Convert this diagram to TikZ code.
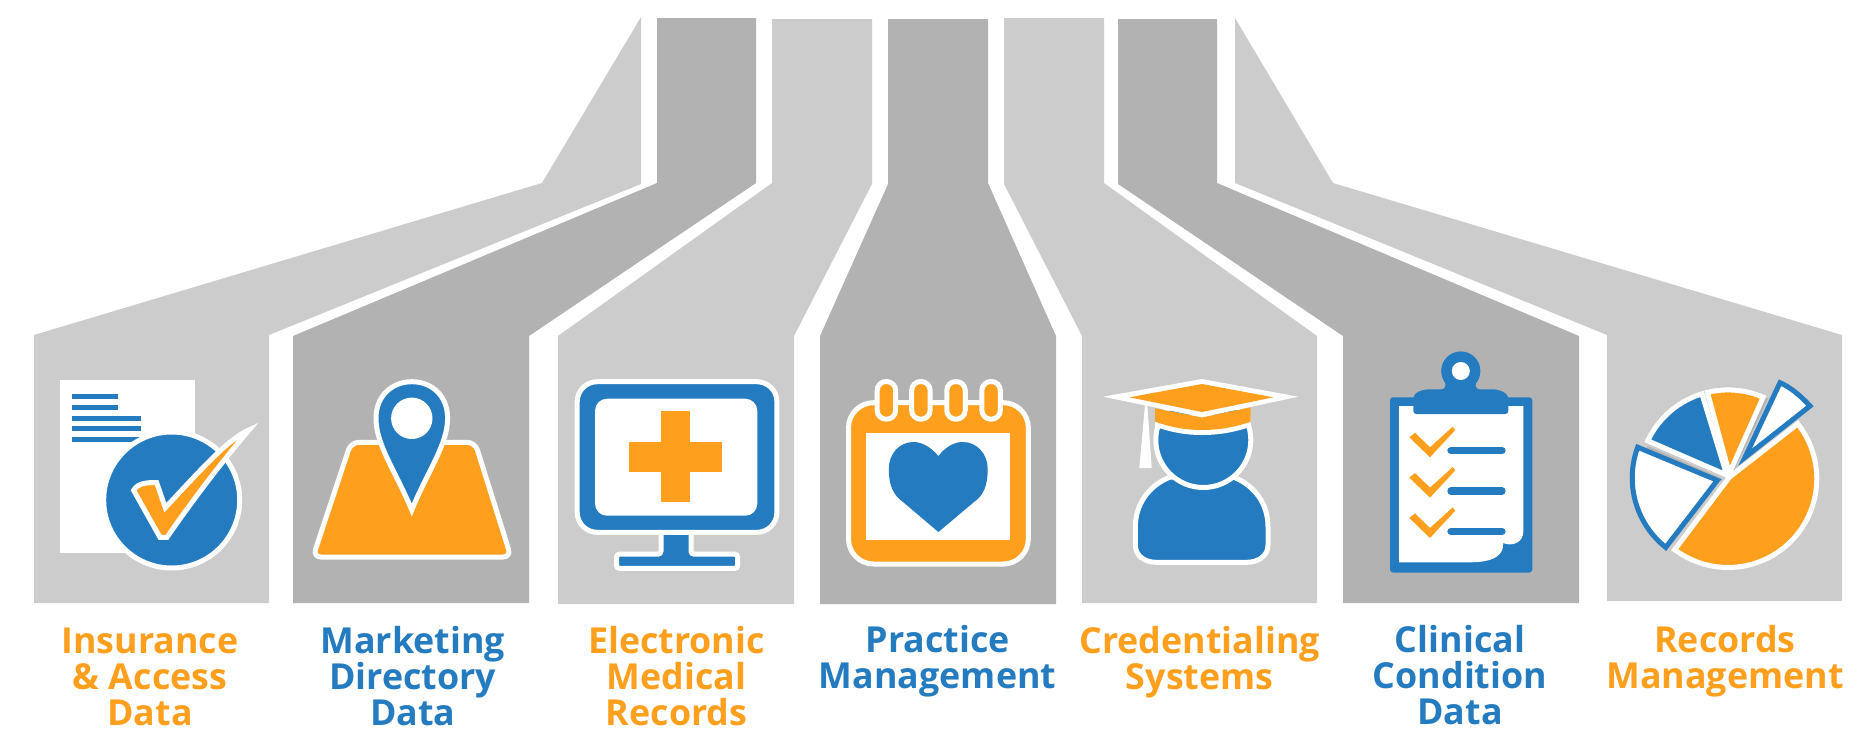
\documentclass[tikz,border=0pt]{standalone}
\usepackage{fontspec}
\setmainfont{Open Sans}
\definecolor{bandlight}{HTML}{CCCCCC}
\definecolor{banddark}{HTML}{B2B2B2}
\definecolor{brandblue}{HTML}{247BC0}
\definecolor{brandorange}{HTML}{FF9F1E}
\definecolor{pieshade}{HTML}{B4B4B4}
\tikzset{
  lightband/.style={fill=bandlight},
  darkband/.style={fill=banddark},
  bluepart/.style={fill=brandblue, draw=white, line width=5pt},
  orangepart/.style={fill=brandorange, draw=white, line width=5pt},
  outlinepart/.style={fill=white, draw=brandblue, line width=5pt},
  labeltext/.style={font=\fontsize{35.8}{36}\selectfont\bfseries, align=center, anchor=base, inner sep=0pt},
  labelorange/.style={labeltext, text=brandorange},
  labelblue/.style={labeltext, text=brandblue},
}
\begin{document}
\begin{tikzpicture}[x=1pt, y=-1pt]
  \useasboundingbox (0,0) rectangle (1875,753);

  \fill[lightband] (34,603) -- (34,335) -- (542,183) -- (641,17) -- (641,184) -- (269,335) -- (269,603) -- cycle;
  \fill[darkband] (293,603) -- (293,336) -- (657,183) -- (657,18) -- (756,18) -- (756,183) -- (529,336) -- (529,603) -- cycle;
  \fill[lightband] (558,604) -- (558,336) -- (772,183) -- (772,19) -- (872,19) -- (872,184) -- (794,336) -- (794,604) -- cycle;
  \fill[darkband] (820,604) -- (820,336) -- (888,184) -- (888,19) -- (988,19) -- (988,183) -- (1056,336) -- (1056,604) -- cycle;
  \fill[lightband] (1082,603) -- (1082,336) -- (1004,184) -- (1004,18) -- (1104,18) -- (1104,183) -- (1317,336) -- (1317,603) -- cycle;
  \fill[darkband] (1343,603) -- (1343,336) -- (1118,184) -- (1118,19) -- (1217,19) -- (1217,183) -- (1579,336) -- (1579,603) -- cycle;
  \fill[lightband] (1607,601) -- (1607,335) -- (1235,183) -- (1235,18) -- (1333,183) -- (1842,335) -- (1842,601) -- cycle;

  \fill[white] (60,380) rectangle (194.6,553);
  \foreach \y/\xend in {396/118,407/118,418/141,428/141,439/141}
    \fill[brandblue] (72.3,\y-2.5) rectangle (\xend,\y+2.5);
  \draw[bluepart] (171.7,500) circle (68pt);
  \draw[orangepart] (133.6,490.3) .. controls (137.7,483.3) and (146.3,482.3) .. (156.7,482.7)
    -- (165.3,507.7) .. controls (206.6,463.3) and (230,438) .. (249,430)
    .. controls (238,443) and (206.6,480) .. (167,537.3) -- (160,537.3) -- cycle;

  \draw[orangepart, rounded corners=8pt] (351,442.3) -- (475,442.3) -- (511,557) -- (313,557) -- cycle;
  \draw[bluepart] (411.8,510) .. controls (395,470) and (376,445) .. (376,418)
    .. controls (376,396) and (392,381.7) .. (411.8,381.7)
    .. controls (432,381.7) and (447.6,396) .. (447.6,418)
    .. controls (447.6,445) and (428,470) .. cycle;
  \fill[white] (411.8,418.3) circle (20.7pt);

  \draw[bluepart, rounded corners=3pt] (661,530) -- (661,554.2) -- (616.5,554.2) -- (616.5,568.4) -- (737.7,568.4) -- (737.7,554.2) -- (691,554.2) -- (691,530);
  \draw[bluepart, rounded corners=20pt] (577.2,381.7) rectangle (776.9,532.3);
  \fill[white, rounded corners=12pt] (595,398.7) rectangle (757.3,515.7);
  \fill[brandorange] (660.9,410.7) rectangle (690.1,502.3);
  \fill[brandorange] (629.2,442.3) rectangle (721.5,471.7);

  \draw[orangepart, rounded corners=25pt] (848.5,402.7) rectangle (1028.3,564);
  \fill[white] (866.4,433) rectangle (1010.4,540.3);
  \foreach \x in {886.4,920.9,956,991.1}
    \draw[orangepart, rounded corners=9pt] (\x-9.25,381.5) rectangle (\x+9.25,419.2);
  \fill[brandblue] (938.4,456) .. controls (929,445) and (920,442) .. (913.6,442)
    .. controls (899,442) and (888.8,454) .. (888.8,469)
    .. controls (888.8,485) and (893,495) .. (903,502) -- (938.4,532) -- (974,502)
    .. controls (984,495) and (987.7,485) .. (987.7,469)
    .. controls (987.7,454) and (977,442) .. (962.9,442)
    .. controls (956,442) and (947,445) .. cycle;

  \fill[white] (1145,405) -- (1147.3,405) -- (1151.7,468) -- (1139.3,468) -- cycle;
  \draw[bluepart] (1170,477) .. controls (1148,486) and (1135.3,505) .. (1135.3,527)
    -- (1135.3,545) .. controls (1135.3,556) and (1145,562.3) .. (1156,562.3)
    -- (1247,562.3) .. controls (1258,562.3) and (1268,556) .. (1268,545)
    -- (1268,527) .. controls (1268,505) and (1256,486) .. (1233.3,477) -- cycle;
  \draw[bluepart] (1203.3,440) circle (47.5pt);
  \fill[white] (1155,415) -- (1250.7,415) -- (1250.7,426.7) .. controls (1235,432) and (1220,435) .. (1202,435)
    .. controls (1185,435) and (1170,432) .. (1155,426.7) -- cycle;
  \fill[brandorange] (1155,408.3) -- (1202,417.3) -- (1250.7,407.3) -- (1250.7,421.7)
    .. controls (1235,427) and (1220,430) .. (1202,430) .. controls (1185,430) and (1170,427) .. (1155,421.7) -- cycle;
  \fill[white] (1103.3,396.7) -- (1202,379) -- (1298.3,396.7) -- (1202,417.3) -- cycle;
  \fill[brandorange] (1129.3,397.3) -- (1202,384) -- (1273.3,397.3) -- (1202,412) -- cycle;

  \fill[brandblue, rounded corners=3pt] (1390,397.3) rectangle (1532.3,572.5);
  \fill[white] (1399,406) -- (1523.3,406) -- (1523.3,532) .. controls (1523,542) and (1513,547) .. (1503,543)
    .. controls (1504,553) and (1497,562.3) .. (1470,562.3) -- (1399,562.3) -- cycle;
  \fill[brandblue, rounded corners=3pt] (1413.3,414) -- (1413.3,396) .. controls (1418,391) and (1425,389.3) .. (1432,389.3)
    -- (1490,389.3) .. controls (1497,389.3) and (1503,391) .. (1508.3,396) -- (1508.3,414) -- cycle;
  \fill[brandblue] (1441,390) .. controls (1447,388) and (1446,384) .. (1444,380) -- (1477.6,380) .. controls (1475,384) and (1474,388) .. (1480,390) -- cycle;
  \fill[brandblue] (1460.8,371) circle (19.6pt);
  \fill[white] (1460.8,371) circle (9pt);
  \foreach \y in {0,40.33,80.67} {
    \fill[brandorange] (1409.3,437.3+\y) -- (1415,432.7+\y) -- (1430,447.3+\y) -- (1452.7,426.7+\y) -- (1455.3,430+\y) -- (1430,457.3+\y) -- cycle;
    \draw[brandblue, line width=7.3pt, line cap=round] (1451,450.7+\y) -- (1502,450.7+\y);
  }

  \draw[pieshade, line width=2.5pt] (1767,398) -- (1733,470);
  \draw[pieshade, line width=2.5pt] (1647,447) -- (1722,480);
  \draw[pieshade, line width=2.5pt] (1677,553) -- (1728,488);
  \draw[orangepart] (1729.3,477.3) -- plot[domain=-38.2:126.9, samples=40] ({1728+88.8*cos(\x)},{478.7+88.8*sin(\x)}) -- cycle;
  \draw[orangepart] (1729.3,473.3) -- plot[domain=-103.4:-66.7, samples=12] ({1728+88.8*cos(\x)},{478.7+88.8*sin(\x)}) -- cycle;
  \draw[bluepart] (1726.7,475) -- plot[domain=-154.7:-107.1, samples=12] ({1728+88.8*cos(\x)},{478.7+88.8*sin(\x)}) -- cycle;
  \draw[outlinepart] (1717.3,480.3) -- plot[domain=128.5:200.2, samples=20] ({1721+88.8*cos(\x)},{477.9+88.8*sin(\x)}) -- cycle;
  \draw[outlinepart] (1745,457.3) -- (1780,382.7) .. controls (1790,387) and (1801,396) .. (1810,406) -- cycle;

  \node[labelorange] (insurance) at (150,725) {Insurance\\\& Access\\Data};
  \node[labelblue] (marketing) at (412.7,725.5) {Marketing\\Directory\\Data};
  \node[labelorange] (electronic) at (676.5,725.5) {Electronic\\Medical\\Records};
  \node[labelblue] (practice) at (937.6,688.5) {Practice\\Management};
  \node[labelorange] (credentialing) at (1199.7,689.5) {Credentialing\\Systems};
  \node[labelblue] (clinical) at (1460,724.5) {Clinical\\Condition\\Data};
  \node[labelorange] (records) at (1725,688.5) {Records\\Management};
\end{tikzpicture}
\end{document}
